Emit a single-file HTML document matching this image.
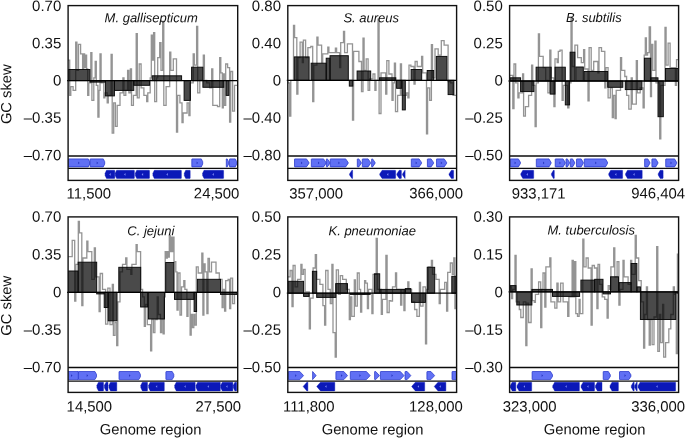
<!DOCTYPE html>
<html><head><meta charset="utf-8"><title>GC skew</title>
<style>html,body{margin:0;padding:0;background:#fff}svg{display:block;will-change:transform}</style>
</head><body>
<svg width="685" height="438" viewBox="0 0 685 438">
<rect width="685" height="438" fill="#fff"/>
<clipPath id="c00"><rect x="68.1" y="5.6" width="169.6" height="150.4"/></clipPath>
<g clip-path="url(#c00)">
<path d="M68.1,60.2H69.7V95.4H70.8V86.6H73.1V90.4H75.7V42.1H76.9V70.3H78.5V44.4H80.6V53.9H82.6V69.0H83.6V53.9H84.6V67.7H85.6V55.2H86.6V69.0H87.7V95.4H88.8V82.8H90.8V52.7H91.9V100.4H93.8V77.8H95.2V61.5H96.3V85.3H97.9V117.0H99.0V90.4H100.0V53.9H101.1V82.8H103.8V97.9H104.9V92.9H107.2V102.9H108.3V95.4H111.1V54.4H112.2V133.1H113.7V102.9H115.4V126.3H117.2V105.4H120.0V92.9H122.9V77.8H124.0V95.4H125.8V90.4H127.6V70.3H128.9V92.9H130.4V69.0H131.5V105.4H133.4V95.4H136.2V33.6H137.3V97.9H139.2V64.0H141.1V87.8H143.9V95.4H146.7V101.7H147.8V92.9H150.2V77.8H151.3V35.1H152.4V60.2H153.6V32.6H154.7V101.7H156.6V77.8H157.7V57.7H159.7V42.6H161.0V70.3H162.7V21.3H163.8V105.4H166.1V86.6H169.7V52.2H170.8V70.3H173.3V58.9H176.5V132.1H177.6V95.4H179.9V102.9H182.0V122.5H183.1V113.0H187.1V102.9H188.9V115.5H190.0V82.8H193.2V53.9H194.3V65.2H196.6V26.3H197.7V92.9H199.8V80.3H203.3V55.2H204.4V80.3H206.7V82.8H209.7V87.8H211.7V69.0H212.8V105.4H217.5V106.7H219.7V57.7H220.8V72.8H222.3V107.9H223.3V74.0H224.3V105.4H225.7V64.0H227.6V67.7H229.6V122.0H230.7V71.5H232.6V111.2H234.5V85.3H236.9V85.3" fill="none" stroke="#949494" stroke-width="1.3" stroke-linejoin="miter"/>
<rect x="68.1" y="69.5" width="21.8" height="11.1" fill="rgba(0,0,0,0.71)" stroke="#0a0a0a" stroke-width="0.95"/>
<rect x="89.9" y="80.6" width="15.6" height="1.5" fill="rgba(0,0,0,0.71)" stroke="#0a0a0a" stroke-width="0.95"/>
<rect x="105.4" y="80.6" width="9.0" height="15.3" fill="rgba(0,0,0,0.71)" stroke="#0a0a0a" stroke-width="0.95"/>
<rect x="114.5" y="80.6" width="19.3" height="9.8" fill="rgba(0,0,0,0.71)" stroke="#0a0a0a" stroke-width="0.95"/>
<rect x="133.8" y="80.6" width="15.8" height="4.7" fill="rgba(0,0,0,0.71)" stroke="#0a0a0a" stroke-width="0.95"/>
<rect x="152.2" y="75.8" width="29.4" height="4.8" fill="rgba(0,0,0,0.71)" stroke="#0a0a0a" stroke-width="0.95"/>
<rect x="184.1" y="80.6" width="6.3" height="19.8" fill="rgba(0,0,0,0.71)" stroke="#0a0a0a" stroke-width="0.95"/>
<rect x="191.6" y="67.2" width="11.3" height="13.4" fill="rgba(0,0,0,0.71)" stroke="#0a0a0a" stroke-width="0.95"/>
<rect x="202.9" y="80.6" width="20.9" height="6.7" fill="rgba(0,0,0,0.71)" stroke="#0a0a0a" stroke-width="0.95"/>
<rect x="226.1" y="80.6" width="2.8" height="14.8" fill="rgba(0,0,0,0.71)" stroke="#0a0a0a" stroke-width="0.95"/>
</g>
<line x1="67.1" y1="80.6" x2="237.7" y2="80.6" stroke="#000" stroke-width="1.3"/>
<clipPath id="tc00"><rect x="68.1" y="156.0" width="169.6" height="24.4"/></clipPath>
<g clip-path="url(#tc00)">
<path d="M68.6,158.9 L88.3,158.9 L89.7,161.7 L89.7,164.1 L88.3,166.9 L68.6,166.9 Q68.2,166.9 68.2,166.6 L68.2,159.2 Q68.2,158.9 68.6,158.9 Z" fill="#6070f4" stroke="#1e2ec6" stroke-width="0.7" stroke-linejoin="round"/><path d="M78.2,161.6 L79.7,162.9 L78.2,164.2 Z" fill="#2a38c0"/>
<path d="M90.4,158.9 L103.3,158.9 L104.7,161.7 L104.7,164.1 L103.3,166.9 L90.4,166.9 Q90.1,166.9 90.1,166.6 L90.1,159.2 Q90.1,158.9 90.4,158.9 Z" fill="#6070f4" stroke="#1e2ec6" stroke-width="0.7" stroke-linejoin="round"/><path d="M96.7,161.6 L98.2,162.9 L96.7,164.2 Z" fill="#2a38c0"/>
<path d="M192.2,158.9 L201.3,158.9 L202.7,161.7 L202.7,164.1 L201.3,166.9 L192.2,166.9 Q191.8,166.9 191.8,166.6 L191.8,159.2 Q191.8,158.9 192.2,158.9 Z" fill="#6070f4" stroke="#1e2ec6" stroke-width="0.7" stroke-linejoin="round"/><path d="M196.6,161.6 L198.1,162.9 L196.6,164.2 Z" fill="#2a38c0"/>
<path d="M226.5,158.9 L227.2,158.9 L228.6,161.7 L228.6,164.1 L227.2,166.9 L226.5,166.9 Q226.3,166.9 226.3,166.6 L226.3,159.2 Q226.3,158.9 226.5,158.9 Z" fill="#6070f4" stroke="#1e2ec6" stroke-width="0.7" stroke-linejoin="round"/>
<path d="M229.9,158.9 L235.3,158.9 L236.7,161.7 L236.7,164.1 L235.3,166.9 L229.9,166.9 Q229.5,166.9 229.5,166.6 L229.5,159.2 Q229.5,158.9 229.9,158.9 Z" fill="#6070f4" stroke="#1e2ec6" stroke-width="0.7" stroke-linejoin="round"/>
<path d="M114.4,170.3 L106.5,170.3 L105.1,173.2 L105.1,175.6 L106.5,178.4 L114.4,178.4 Q114.8,178.4 114.8,178.1 L114.8,170.7 Q114.8,170.3 114.4,170.3 Z" fill="#0b18b8" stroke="#0b18b8" stroke-width="0.4" stroke-linejoin="round"/><path d="M110.7,173.1 L109.2,174.4 L110.7,175.7 Z" fill="#7d8af5"/>
<path d="M134.0,170.3 L116.6,170.3 L115.2,173.2 L115.2,175.6 L116.6,178.4 L134.0,178.4 Q134.4,178.4 134.4,178.1 L134.4,170.7 Q134.4,170.3 134.0,170.3 Z" fill="#0b18b8" stroke="#0b18b8" stroke-width="0.4" stroke-linejoin="round"/><path d="M125.5,173.1 L124.0,174.4 L125.5,175.7 Z" fill="#7d8af5"/>
<path d="M149.1,170.3 L136.7,170.3 L135.3,173.2 L135.3,175.6 L136.7,178.4 L149.1,178.4 Q149.5,178.4 149.5,178.1 L149.5,170.7 Q149.5,170.3 149.1,170.3 Z" fill="#0b18b8" stroke="#0b18b8" stroke-width="0.4" stroke-linejoin="round"/><path d="M143.1,173.1 L141.6,174.4 L143.1,175.7 Z" fill="#7d8af5"/>
<path d="M181.0,170.3 L154.3,170.3 L152.9,173.2 L152.9,175.6 L154.3,178.4 L181.0,178.4 Q181.4,178.4 181.4,178.1 L181.4,170.7 Q181.4,170.3 181.0,170.3 Z" fill="#0b18b8" stroke="#0b18b8" stroke-width="0.4" stroke-linejoin="round"/><path d="M167.8,173.1 L166.3,174.4 L167.8,175.7 Z" fill="#7d8af5"/>
<path d="M189.8,170.3 L185.7,170.3 L184.3,173.2 L184.3,175.6 L185.7,178.4 L189.8,178.4 Q190.2,178.4 190.2,178.1 L190.2,170.7 Q190.2,170.3 189.8,170.3 Z" fill="#0b18b8" stroke="#0b18b8" stroke-width="0.4" stroke-linejoin="round"/>
<path d="M223.2,170.3 L204.0,170.3 L202.6,173.2 L202.6,175.6 L204.0,178.4 L223.2,178.4 Q223.6,178.4 223.6,178.1 L223.6,170.7 Q223.6,170.3 223.2,170.3 Z" fill="#0b18b8" stroke="#0b18b8" stroke-width="0.4" stroke-linejoin="round"/><path d="M213.8,173.1 L212.3,174.4 L213.8,175.7 Z" fill="#7d8af5"/>
</g>
<line x1="68.1" y1="155.9" x2="237.7" y2="155.9" stroke="#0c0c0c" stroke-width="1.45"/>
<line x1="68.1" y1="168.3" x2="237.7" y2="168.3" stroke="#0c0c0c" stroke-width="1.35"/>
<rect x="68.1" y="5.6" width="169.6" height="174.8" fill="none" stroke="#111" stroke-width="1.4"/>
<text x="61.3" y="10.97" transform="rotate(0.03 61.3 10.97)" font-family="Liberation Sans, Arial, Helvetica, sans-serif" font-size="15" text-anchor="end" fill="#111">0.70</text>
<text x="61.3" y="48.37" transform="rotate(0.03 61.3 48.37)" font-family="Liberation Sans, Arial, Helvetica, sans-serif" font-size="15" text-anchor="end" fill="#111">0.35</text>
<text x="61.3" y="85.57" transform="rotate(0.03 61.3 85.57)" font-family="Liberation Sans, Arial, Helvetica, sans-serif" font-size="15" text-anchor="end" fill="#111">0</text>
<text x="61.3" y="122.77" transform="rotate(0.03 61.3 122.77)" font-family="Liberation Sans, Arial, Helvetica, sans-serif" font-size="15" text-anchor="end" fill="#111">–0.35</text>
<text x="61.3" y="160.37" transform="rotate(0.03 61.3 160.37)" font-family="Liberation Sans, Arial, Helvetica, sans-serif" font-size="15" text-anchor="end" fill="#111">–0.70</text>
<text x="104.6" y="22.2" transform="rotate(0.03 104.6 22.2)" font-family="Liberation Sans, Arial, Helvetica, sans-serif" font-size="13" font-style="italic" fill="#111">M. gallisepticum</text>
<text x="66.6" y="198.4" transform="rotate(0.03 66.6 198.4)" font-family="Liberation Sans, Arial, Helvetica, sans-serif" font-size="14.9" text-anchor="start" fill="#111">11,500</text>
<text x="239.4" y="198.4" transform="rotate(0.03 239.4 198.4)" font-family="Liberation Sans, Arial, Helvetica, sans-serif" font-size="14.9" text-anchor="end" fill="#111">24,500</text>
<text transform="translate(11.2,94.2) rotate(-89.97)" font-family="Liberation Sans, Arial, Helvetica, sans-serif" font-size="14.75" text-anchor="middle" fill="#111">GC skew</text>
<clipPath id="c10"><rect x="287.8" y="5.6" width="168.8" height="150.4"/></clipPath>
<g clip-path="url(#c10)">
<path d="M288.0,82.8H289.7V116.2H290.8V80.3H293.5V25.5H294.6V37.6H296.8V94.1H297.9V57.7H300.1V42.1H302.3V62.7H303.4V40.1H305.6V57.7H307.9V47.6H310.8V46.4H312.7V101.7H313.8V65.2H316.9V37.1H318.0V45.1H321.6V62.7H322.7V53.9H327.8V47.1H328.9V52.7H335.4V48.1H336.6V52.7H339.6V67.7H340.7V42.6H343.5V31.3H344.6V52.7H347.4V43.9H352.5V120.0H353.6V51.4H358.9V61.5H361.5V91.6H363.0V38.1H364.1V70.3H366.2V58.9H368.1V90.4H369.7V79.0H373.0V74.0H374.9V90.4H376.0V80.3H378.0V19.2H379.1V113.5H381.0V72.8H385.7V94.1H386.8V60.7H388.9V74.0H392.0V100.4H393.1V82.8H394.4V63.2H395.5V111.7H397.6V95.4H400.4V64.0H401.5V95.4H406.4V92.9H407.9V97.9H409.0V65.2H410.9V66.5H414.0V84.1H415.1V61.5H417.2V66.5H421.6V56.4H422.7V72.8H426.5V133.8H427.6V87.8H429.7V100.4H431.4V44.6H432.5V77.8H435.0V48.9H438.2V55.2H441.3V40.6H444.1V45.1H448.1V81.6H450.6V82.8H453.1V95.4H456.6V95.4" fill="none" stroke="#949494" stroke-width="1.3" stroke-linejoin="miter"/>
<rect x="294.3" y="56.9" width="14.8" height="23.4" fill="rgba(0,0,0,0.71)" stroke="#0a0a0a" stroke-width="0.95"/>
<rect x="311.1" y="63.2" width="15.1" height="17.1" fill="rgba(0,0,0,0.71)" stroke="#0a0a0a" stroke-width="0.95"/>
<rect x="326.2" y="58.2" width="3.8" height="22.1" fill="rgba(0,0,0,0.71)" stroke="#0a0a0a" stroke-width="0.95"/>
<rect x="330.0" y="55.7" width="18.3" height="24.6" fill="rgba(0,0,0,0.71)" stroke="#0a0a0a" stroke-width="0.95"/>
<rect x="349.3" y="80.3" width="3.5" height="5.8" fill="rgba(0,0,0,0.71)" stroke="#0a0a0a" stroke-width="0.95"/>
<rect x="357.1" y="71.0" width="13.6" height="9.3" fill="rgba(0,0,0,0.71)" stroke="#0a0a0a" stroke-width="0.95"/>
<rect x="379.5" y="77.8" width="16.3" height="2.5" fill="rgba(0,0,0,0.71)" stroke="#0a0a0a" stroke-width="0.95"/>
<rect x="396.6" y="80.3" width="5.0" height="8.0" fill="rgba(0,0,0,0.71)" stroke="#0a0a0a" stroke-width="0.95"/>
<rect x="402.3" y="80.3" width="3.0" height="29.6" fill="rgba(0,0,0,0.71)" stroke="#0a0a0a" stroke-width="0.95"/>
<rect x="411.1" y="69.5" width="10.6" height="10.8" fill="rgba(0,0,0,0.71)" stroke="#0a0a0a" stroke-width="0.95"/>
<rect x="427.2" y="70.5" width="6.5" height="9.8" fill="rgba(0,0,0,0.71)" stroke="#0a0a0a" stroke-width="0.95"/>
<rect x="436.3" y="56.4" width="10.6" height="23.9" fill="rgba(0,0,0,0.71)" stroke="#0a0a0a" stroke-width="0.95"/>
<rect x="448.1" y="80.3" width="5.8" height="14.3" fill="rgba(0,0,0,0.71)" stroke="#0a0a0a" stroke-width="0.95"/>
</g>
<line x1="286.8" y1="80.3" x2="456.6" y2="80.3" stroke="#000" stroke-width="1.3"/>
<clipPath id="tc10"><rect x="287.8" y="156.0" width="168.8" height="24.4"/></clipPath>
<g clip-path="url(#tc10)">
<path d="M294.8,158.9 L306.5,158.9 L308.9,162.4 L308.9,163.4 L306.5,166.9 L294.8,166.9 Q294.5,166.9 294.5,166.6 L294.5,159.2 Q294.5,158.9 294.8,158.9 Z" fill="#6070f4" stroke="#1e2ec6" stroke-width="0.7" stroke-linejoin="round"/><path d="M301.0,161.6 L302.5,162.9 L301.0,164.2 Z" fill="#2a38c0"/>
<path d="M311.7,158.9 L323.6,158.9 L326.0,162.4 L326.0,163.4 L323.6,166.9 L311.7,166.9 Q311.3,166.9 311.3,166.6 L311.3,159.2 Q311.3,158.9 311.7,158.9 Z" fill="#6070f4" stroke="#1e2ec6" stroke-width="0.7" stroke-linejoin="round"/><path d="M318.0,161.6 L319.5,162.9 L318.0,164.2 Z" fill="#2a38c0"/>
<path d="M326.7,158.9 L327.4,158.9 L329.8,162.4 L329.8,163.4 L327.4,166.9 L326.7,166.9 Q326.4,166.9 326.4,166.6 L326.4,159.2 Q326.4,158.9 326.7,158.9 Z" fill="#6070f4" stroke="#1e2ec6" stroke-width="0.7" stroke-linejoin="round"/>
<path d="M330.5,158.9 L345.7,158.9 L348.1,162.4 L348.1,163.4 L345.7,166.9 L330.5,166.9 Q330.2,166.9 330.2,166.6 L330.2,159.2 Q330.2,158.9 330.5,158.9 Z" fill="#6070f4" stroke="#1e2ec6" stroke-width="0.7" stroke-linejoin="round"/><path d="M338.4,161.6 L339.9,162.9 L338.4,164.2 Z" fill="#2a38c0"/>
<path d="M357.7,158.9 L358.8,158.9 L361.2,162.4 L361.2,163.4 L358.8,166.9 L357.7,166.9 Q357.3,166.9 357.3,166.6 L357.3,159.2 Q357.3,158.9 357.7,158.9 Z" fill="#6070f4" stroke="#1e2ec6" stroke-width="0.7" stroke-linejoin="round"/>
<path d="M362.7,158.9 L368.1,158.9 L370.5,162.4 L370.5,163.4 L368.1,166.9 L362.7,166.9 Q362.3,166.9 362.3,166.6 L362.3,159.2 Q362.3,158.9 362.7,158.9 Z" fill="#6070f4" stroke="#1e2ec6" stroke-width="0.7" stroke-linejoin="round"/>
<path d="M371.9,158.9 L372.6,158.9 L375.0,162.4 L375.0,163.4 L372.6,166.9 L371.9,166.9 Q371.6,166.9 371.6,166.6 L371.6,159.2 Q371.6,158.9 371.9,158.9 Z" fill="#6070f4" stroke="#1e2ec6" stroke-width="0.7" stroke-linejoin="round"/>
<path d="M411.7,158.9 L419.1,158.9 L421.5,162.4 L421.5,163.4 L419.1,166.9 L411.7,166.9 Q411.3,166.9 411.3,166.6 L411.3,159.2 Q411.3,158.9 411.7,158.9 Z" fill="#6070f4" stroke="#1e2ec6" stroke-width="0.7" stroke-linejoin="round"/><path d="M415.7,161.6 L417.2,162.9 L415.7,164.2 Z" fill="#2a38c0"/>
<path d="M427.8,158.9 L431.1,158.9 L433.5,162.4 L433.5,163.4 L431.1,166.9 L427.8,166.9 Q427.4,166.9 427.4,166.6 L427.4,159.2 Q427.4,158.9 427.8,158.9 Z" fill="#6070f4" stroke="#1e2ec6" stroke-width="0.7" stroke-linejoin="round"/>
<path d="M436.8,158.9 L444.2,158.9 L446.6,162.4 L446.6,163.4 L444.2,166.9 L436.8,166.9 Q436.5,166.9 436.5,166.6 L436.5,159.2 Q436.5,158.9 436.8,158.9 Z" fill="#6070f4" stroke="#1e2ec6" stroke-width="0.7" stroke-linejoin="round"/><path d="M440.8,161.6 L442.3,162.9 L440.8,164.2 Z" fill="#2a38c0"/>
<path d="M352.4,170.3 L351.9,170.3 L349.5,173.9 L349.5,174.9 L351.9,178.4 L352.4,178.4 Q352.6,178.4 352.6,178.2 L352.6,170.5 Q352.6,170.3 352.4,170.3 Z" fill="#0b18b8" stroke="#0b18b8" stroke-width="0.4" stroke-linejoin="round"/>
<path d="M395.2,170.3 L382.1,170.3 L379.7,173.9 L379.7,174.9 L382.1,178.4 L395.2,178.4 Q395.6,178.4 395.6,178.1 L395.6,170.7 Q395.6,170.3 395.2,170.3 Z" fill="#0b18b8" stroke="#0b18b8" stroke-width="0.4" stroke-linejoin="round"/><path d="M388.3,173.1 L386.8,174.4 L388.3,175.7 Z" fill="#7d8af5"/>
<path d="M401.0,170.3 L399.2,170.3 L396.8,173.9 L396.8,174.9 L399.2,178.4 L401.0,178.4 Q401.4,178.4 401.4,178.1 L401.4,170.7 Q401.4,170.3 401.0,170.3 Z" fill="#0b18b8" stroke="#0b18b8" stroke-width="0.4" stroke-linejoin="round"/>
<path d="M405.1,170.3 L404.9,170.3 L402.5,173.9 L402.5,174.9 L404.9,178.4 L405.1,178.4 Q405.1,178.4 405.1,178.3 L405.1,170.4 Q405.1,170.3 405.1,170.3 Z" fill="#0b18b8" stroke="#0b18b8" stroke-width="0.4" stroke-linejoin="round"/>
<path d="M453.3,170.3 L451.4,170.3 L449.0,173.9 L449.0,174.9 L451.4,178.4 L453.3,178.4 Q453.6,178.4 453.6,178.1 L453.6,170.7 Q453.6,170.3 453.3,170.3 Z" fill="#0b18b8" stroke="#0b18b8" stroke-width="0.4" stroke-linejoin="round"/>
</g>
<line x1="287.8" y1="155.9" x2="456.6" y2="155.9" stroke="#0c0c0c" stroke-width="1.45"/>
<line x1="287.8" y1="168.3" x2="456.6" y2="168.3" stroke="#0c0c0c" stroke-width="1.35"/>
<rect x="287.8" y="5.6" width="168.8" height="174.8" fill="none" stroke="#111" stroke-width="1.4"/>
<text x="281.0" y="10.97" transform="rotate(0.03 281.0 10.97)" font-family="Liberation Sans, Arial, Helvetica, sans-serif" font-size="15" text-anchor="end" fill="#111">0.80</text>
<text x="281.0" y="48.37" transform="rotate(0.03 281.0 48.37)" font-family="Liberation Sans, Arial, Helvetica, sans-serif" font-size="15" text-anchor="end" fill="#111">0.40</text>
<text x="281.0" y="85.57" transform="rotate(0.03 281.0 85.57)" font-family="Liberation Sans, Arial, Helvetica, sans-serif" font-size="15" text-anchor="end" fill="#111">0</text>
<text x="281.0" y="122.77" transform="rotate(0.03 281.0 122.77)" font-family="Liberation Sans, Arial, Helvetica, sans-serif" font-size="15" text-anchor="end" fill="#111">–0.40</text>
<text x="281.0" y="160.37" transform="rotate(0.03 281.0 160.37)" font-family="Liberation Sans, Arial, Helvetica, sans-serif" font-size="15" text-anchor="end" fill="#111">–0.80</text>
<text x="343.4" y="22.2" transform="rotate(0.03 343.4 22.2)" font-family="Liberation Sans, Arial, Helvetica, sans-serif" font-size="13" font-style="italic" fill="#111">S. aureus</text>
<text x="289.3" y="198.4" transform="rotate(0.03 289.3 198.4)" font-family="Liberation Sans, Arial, Helvetica, sans-serif" font-size="14.9" text-anchor="start" fill="#111">357,000</text>
<text x="463.0" y="198.4" transform="rotate(0.03 463.0 198.4)" font-family="Liberation Sans, Arial, Helvetica, sans-serif" font-size="14.9" text-anchor="end" fill="#111">366,000</text>
<clipPath id="c20"><rect x="509.6" y="5.6" width="169.0" height="150.4"/></clipPath>
<g clip-path="url(#c20)">
<path d="M510.0,75.3H512.8V108.7H514.0V64.0H515.7V82.8H517.9V97.9H519.0V92.9H522.6V74.0H523.6V116.2H525.4V106.7H528.6V95.4H531.6V65.2H532.7V85.3H535.1V126.5H536.2V82.8H538.4V33.8H539.5V56.4H543.2V67.7H545.7V80.3H547.9V92.9H549.8V50.2H550.9V77.8H553.9V106.7H555.0V58.9H557.2V62.7H558.3V51.4H560.0V50.2H562.1V100.4H563.2V85.3H567.7V107.9H568.9V82.8H571.0V18.7H572.1V66.5H574.9V45.1H577.6V57.7H581.3V62.7H583.6V49.6H584.7V69.0H588.0V100.9H589.1V47.6H591.2V70.3H593.7V61.5H597.9V72.8H599.0V47.6H601.5V51.4H604.8V87.8H605.9V67.7H608.1V97.9H610.3V87.8H612.3V117.5H613.5V95.4H615.1V118.7H616.2V90.4H620.5V57.7H621.6V70.3H624.8V76.5H626.6V95.4H628.8V109.2H631.2V77.8H632.3V104.2H636.3V60.7H637.4V92.9H640.2V87.8H643.1V107.9H644.2V55.2H645.3V37.8H646.4V55.2H647.6V52.7H649.2V26.8H650.5V96.6H651.5V44.4H652.8V70.3H654.9V41.1H656.0V82.8H659.7V138.8H660.8V85.3H665.0V27.5H666.1V65.2H668.1V43.1H670.1V67.7H672.6V67.7H675.4V85.3H676.5V59.7H678.6V59.7" fill="none" stroke="#949494" stroke-width="1.3" stroke-linejoin="miter"/>
<rect x="510.0" y="77.8" width="10.6" height="3.2" fill="rgba(0,0,0,0.71)" stroke="#0a0a0a" stroke-width="0.95"/>
<rect x="520.6" y="81.0" width="13.3" height="10.6" fill="rgba(0,0,0,0.71)" stroke="#0a0a0a" stroke-width="0.95"/>
<rect x="536.1" y="67.2" width="15.1" height="13.8" fill="rgba(0,0,0,0.71)" stroke="#0a0a0a" stroke-width="0.95"/>
<rect x="550.2" y="81.0" width="4.8" height="13.1" fill="rgba(0,0,0,0.71)" stroke="#0a0a0a" stroke-width="0.95"/>
<rect x="555.0" y="67.2" width="10.3" height="13.8" fill="rgba(0,0,0,0.71)" stroke="#0a0a0a" stroke-width="0.95"/>
<rect x="565.3" y="81.0" width="4.3" height="23.9" fill="rgba(0,0,0,0.71)" stroke="#0a0a0a" stroke-width="0.95"/>
<rect x="570.1" y="52.2" width="4.8" height="28.8" fill="rgba(0,0,0,0.71)" stroke="#0a0a0a" stroke-width="0.95"/>
<rect x="575.8" y="67.0" width="7.5" height="14.0" fill="rgba(0,0,0,0.71)" stroke="#0a0a0a" stroke-width="0.95"/>
<rect x="584.1" y="71.5" width="23.6" height="9.5" fill="rgba(0,0,0,0.71)" stroke="#0a0a0a" stroke-width="0.95"/>
<rect x="607.7" y="81.0" width="15.1" height="6.3" fill="rgba(0,0,0,0.71)" stroke="#0a0a0a" stroke-width="0.95"/>
<rect x="625.3" y="81.0" width="16.6" height="8.6" fill="rgba(0,0,0,0.71)" stroke="#0a0a0a" stroke-width="0.95"/>
<rect x="644.4" y="58.2" width="6.3" height="22.8" fill="rgba(0,0,0,0.71)" stroke="#0a0a0a" stroke-width="0.95"/>
<rect x="650.7" y="77.8" width="7.3" height="3.2" fill="rgba(0,0,0,0.71)" stroke="#0a0a0a" stroke-width="0.95"/>
<rect x="658.0" y="81.0" width="5.3" height="35.7" fill="rgba(0,0,0,0.71)" stroke="#0a0a0a" stroke-width="0.95"/>
<rect x="665.5" y="68.5" width="13.1" height="12.5" fill="rgba(0,0,0,0.71)" stroke="#0a0a0a" stroke-width="0.95"/>
</g>
<line x1="508.6" y1="81.0" x2="678.6" y2="81.0" stroke="#000" stroke-width="1.3"/>
<clipPath id="tc20"><rect x="509.6" y="156.0" width="169.0" height="24.4"/></clipPath>
<g clip-path="url(#tc20)">
<path d="M510.6,158.9 L518.4,158.9 L520.4,162.3 L520.4,163.5 L518.4,166.9 L510.6,166.9 Q510.2,166.9 510.2,166.6 L510.2,159.2 Q510.2,158.9 510.6,158.9 Z" fill="#6070f4" stroke="#1e2ec6" stroke-width="0.7" stroke-linejoin="round"/><path d="M514.6,161.6 L516.1,162.9 L514.6,164.2 Z" fill="#2a38c0"/>
<path d="M536.7,158.9 L549.0,158.9 L551.0,162.3 L551.0,163.5 L549.0,166.9 L536.7,166.9 Q536.3,166.9 536.3,166.6 L536.3,159.2 Q536.3,158.9 536.7,158.9 Z" fill="#6070f4" stroke="#1e2ec6" stroke-width="0.7" stroke-linejoin="round"/><path d="M543.0,161.6 L544.5,162.9 L543.0,164.2 Z" fill="#2a38c0"/>
<path d="M555.5,158.9 L563.1,158.9 L565.1,162.3 L565.1,163.5 L563.1,166.9 L555.5,166.9 Q555.2,166.9 555.2,166.6 L555.2,159.2 Q555.2,158.9 555.5,158.9 Z" fill="#6070f4" stroke="#1e2ec6" stroke-width="0.7" stroke-linejoin="round"/><path d="M559.4,161.6 L560.9,162.9 L559.4,164.2 Z" fill="#2a38c0"/>
<path d="M566.3,158.9 L567.4,158.9 L569.4,162.3 L569.4,163.5 L567.4,166.9 L566.3,166.9 Q566.0,166.9 566.0,166.6 L566.0,159.2 Q566.0,158.9 566.3,158.9 Z" fill="#6070f4" stroke="#1e2ec6" stroke-width="0.7" stroke-linejoin="round"/>
<path d="M570.6,158.9 L572.6,158.9 L574.6,162.3 L574.6,163.5 L572.6,166.9 L570.6,166.9 Q570.3,166.9 570.3,166.6 L570.3,159.2 Q570.3,158.9 570.6,158.9 Z" fill="#6070f4" stroke="#1e2ec6" stroke-width="0.7" stroke-linejoin="round"/>
<path d="M576.9,158.9 L581.2,158.9 L583.2,162.3 L583.2,163.5 L581.2,166.9 L576.9,166.9 Q576.5,166.9 576.5,166.6 L576.5,159.2 Q576.5,158.9 576.9,158.9 Z" fill="#6070f4" stroke="#1e2ec6" stroke-width="0.7" stroke-linejoin="round"/>
<path d="M584.7,158.9 L605.5,158.9 L607.5,162.3 L607.5,163.5 L605.5,166.9 L584.7,166.9 Q584.3,166.9 584.3,166.6 L584.3,159.2 Q584.3,158.9 584.7,158.9 Z" fill="#6070f4" stroke="#1e2ec6" stroke-width="0.7" stroke-linejoin="round"/><path d="M595.2,161.6 L596.7,162.9 L595.2,164.2 Z" fill="#2a38c0"/>
<path d="M645.0,158.9 L647.8,158.9 L649.8,162.3 L649.8,163.5 L647.8,166.9 L645.0,166.9 Q644.6,166.9 644.6,166.6 L644.6,159.2 Q644.6,158.9 645.0,158.9 Z" fill="#6070f4" stroke="#1e2ec6" stroke-width="0.7" stroke-linejoin="round"/>
<path d="M652.3,158.9 L655.8,158.9 L657.8,162.3 L657.8,163.5 L655.8,166.9 L652.3,166.9 Q651.9,166.9 651.9,166.6 L651.9,159.2 Q651.9,158.9 652.3,158.9 Z" fill="#6070f4" stroke="#1e2ec6" stroke-width="0.7" stroke-linejoin="round"/>
<path d="M666.1,158.9 L674.6,158.9 L676.6,162.3 L676.6,163.5 L674.6,166.9 L666.1,166.9 Q665.7,166.9 665.7,166.6 L665.7,159.2 Q665.7,158.9 666.1,158.9 Z" fill="#6070f4" stroke="#1e2ec6" stroke-width="0.7" stroke-linejoin="round"/><path d="M670.5,161.6 L672.0,162.9 L670.5,164.2 Z" fill="#2a38c0"/>
<path d="M533.3,170.3 L522.8,170.3 L520.8,173.8 L520.8,175.0 L522.8,178.4 L533.3,178.4 Q533.7,178.4 533.7,178.1 L533.7,170.7 Q533.7,170.3 533.3,170.3 Z" fill="#0b18b8" stroke="#0b18b8" stroke-width="0.4" stroke-linejoin="round"/><path d="M527.9,173.1 L526.4,174.4 L527.9,175.7 Z" fill="#7d8af5"/>
<path d="M554.0,170.3 L553.4,170.3 L551.4,173.8 L551.4,175.0 L553.4,178.4 L554.0,178.4 Q554.3,178.4 554.3,178.1 L554.3,170.6 Q554.3,170.3 554.0,170.3 Z" fill="#0b18b8" stroke="#0b18b8" stroke-width="0.4" stroke-linejoin="round"/>
<path d="M622.3,170.3 L610.7,170.3 L608.7,173.8 L608.7,175.0 L610.7,178.4 L622.3,178.4 Q622.6,178.4 622.6,178.1 L622.6,170.7 Q622.6,170.3 622.3,170.3 Z" fill="#0b18b8" stroke="#0b18b8" stroke-width="0.4" stroke-linejoin="round"/><path d="M616.4,173.1 L614.9,174.4 L616.4,175.7 Z" fill="#7d8af5"/>
<path d="M641.9,170.3 L627.5,170.3 L625.5,173.8 L625.5,175.0 L627.5,178.4 L641.9,178.4 Q642.2,178.4 642.2,178.1 L642.2,170.7 Q642.2,170.3 641.9,170.3 Z" fill="#0b18b8" stroke="#0b18b8" stroke-width="0.4" stroke-linejoin="round"/><path d="M634.6,173.1 L633.1,174.4 L634.6,175.7 Z" fill="#7d8af5"/>
<path d="M662.7,170.3 L660.2,170.3 L658.2,173.8 L658.2,175.0 L660.2,178.4 L662.7,178.4 Q663.1,178.4 663.1,178.1 L663.1,170.7 Q663.1,170.3 662.7,170.3 Z" fill="#0b18b8" stroke="#0b18b8" stroke-width="0.4" stroke-linejoin="round"/>
</g>
<line x1="509.6" y1="155.9" x2="678.6" y2="155.9" stroke="#0c0c0c" stroke-width="1.45"/>
<line x1="509.6" y1="168.3" x2="678.6" y2="168.3" stroke="#0c0c0c" stroke-width="1.35"/>
<rect x="509.6" y="5.6" width="169.0" height="174.8" fill="none" stroke="#111" stroke-width="1.4"/>
<text x="502.8" y="10.97" transform="rotate(0.03 502.8 10.97)" font-family="Liberation Sans, Arial, Helvetica, sans-serif" font-size="15" text-anchor="end" fill="#111">0.50</text>
<text x="502.8" y="48.37" transform="rotate(0.03 502.8 48.37)" font-family="Liberation Sans, Arial, Helvetica, sans-serif" font-size="15" text-anchor="end" fill="#111">0.25</text>
<text x="502.8" y="85.57" transform="rotate(0.03 502.8 85.57)" font-family="Liberation Sans, Arial, Helvetica, sans-serif" font-size="15" text-anchor="end" fill="#111">0</text>
<text x="502.8" y="122.77" transform="rotate(0.03 502.8 122.77)" font-family="Liberation Sans, Arial, Helvetica, sans-serif" font-size="15" text-anchor="end" fill="#111">–0.25</text>
<text x="502.8" y="160.37" transform="rotate(0.03 502.8 160.37)" font-family="Liberation Sans, Arial, Helvetica, sans-serif" font-size="15" text-anchor="end" fill="#111">–0.50</text>
<text x="566.0" y="21.9" transform="rotate(0.03 566.0 21.9)" font-family="Liberation Sans, Arial, Helvetica, sans-serif" font-size="13" font-style="italic" fill="#111">B. subtilis</text>
<text x="511.8" y="198.4" transform="rotate(0.03 511.8 198.4)" font-family="Liberation Sans, Arial, Helvetica, sans-serif" font-size="14.9" text-anchor="start" fill="#111">933,171</text>
<text x="685.0" y="198.4" transform="rotate(0.03 685.0 198.4)" font-family="Liberation Sans, Arial, Helvetica, sans-serif" font-size="14.9" text-anchor="end" fill="#111">946,404</text>
<clipPath id="c01"><rect x="68.1" y="216.9" width="169.6" height="150.7"/></clipPath>
<g clip-path="url(#c01)">
<path d="M68.1,256.7H72.2V240.4H74.7V301.2H75.8V264.3H78.3V221.5H79.4V232.8H81.8V305.7H82.9V258.0H86.8V241.1H87.9V251.7H91.8V279.3H94.3V247.9H95.4V276.8H99.1V311.5H100.2V273.5H102.5V289.4H105.6V324.1H107.8V288.1H110.0V324.6H112.3V284.4H113.4V335.4H115.0V322.5H116.7V345.7H117.8V301.9H120.0V271.8H122.5V264.3H125.7V258.0H126.9V269.3H130.8V274.3H131.9V264.3H136.1V244.7H137.2V251.7H140.6V289.4H142.6V296.9H144.3V326.3H145.4V304.5H147.3V324.6H150.6V350.9H151.7V319.5H153.4V332.6H154.9V319.5H157.2V296.9H158.3V314.5H160.5V332.6H161.7V319.5H163.1V333.8H164.2V296.9H165.2V251.7H166.3V258.0H167.3V251.7H168.3V257.2H169.3V235.4H170.3V251.7H171.0V237.1H172.0V251.7H173.0V237.1H174.0V261.7H175.8V271.8H177.0V310.0H178.1V273.0H180.0V315.0H181.5V286.9H183.8V280.6H184.9V289.4H186.9V316.3H188.0V299.4H190.1V335.1H191.2V314.5H192.4V327.6H193.8V314.5H194.9V325.1H196.3V266.8H198.2V273.0H201.8V253.2H202.9V315.0H203.9V264.0H205.1V271.8H206.9V313.7H208.0V258.5H209.4V271.8H211.5V262.2H216.0V273.0H219.3V279.3H222.1V307.5H223.2V289.4H224.6V311.2H225.7V280.6H228.1V279.3H229.6V308.7H230.7V278.1H232.6V303.7H234.5V294.4H236.9V294.4" fill="none" stroke="#949494" stroke-width="1.3" stroke-linejoin="miter"/>
<rect x="68.1" y="271.0" width="10.0" height="21.3" fill="rgba(0,0,0,0.71)" stroke="#0a0a0a" stroke-width="0.95"/>
<rect x="78.1" y="262.2" width="18.6" height="30.1" fill="rgba(0,0,0,0.71)" stroke="#0a0a0a" stroke-width="0.95"/>
<rect x="96.7" y="292.3" width="7.5" height="1.6" fill="rgba(0,0,0,0.71)" stroke="#0a0a0a" stroke-width="0.95"/>
<rect x="104.2" y="292.3" width="4.0" height="15.2" fill="rgba(0,0,0,0.71)" stroke="#0a0a0a" stroke-width="0.95"/>
<rect x="108.2" y="292.3" width="8.8" height="28.5" fill="rgba(0,0,0,0.71)" stroke="#0a0a0a" stroke-width="0.95"/>
<rect x="118.8" y="267.3" width="21.9" height="25.0" fill="rgba(0,0,0,0.71)" stroke="#0a0a0a" stroke-width="0.95"/>
<rect x="140.6" y="292.3" width="7.0" height="14.7" fill="rgba(0,0,0,0.71)" stroke="#0a0a0a" stroke-width="0.95"/>
<rect x="148.4" y="292.3" width="16.1" height="26.7" fill="rgba(0,0,0,0.71)" stroke="#0a0a0a" stroke-width="0.95"/>
<rect x="165.7" y="262.5" width="8.3" height="29.8" fill="rgba(0,0,0,0.71)" stroke="#0a0a0a" stroke-width="0.95"/>
<rect x="174.5" y="292.3" width="19.6" height="7.1" fill="rgba(0,0,0,0.71)" stroke="#0a0a0a" stroke-width="0.95"/>
<rect x="194.1" y="292.3" width="2.5" height="19.2" fill="rgba(0,0,0,0.71)" stroke="#0a0a0a" stroke-width="0.95"/>
<rect x="197.4" y="279.3" width="23.1" height="13.0" fill="rgba(0,0,0,0.71)" stroke="#0a0a0a" stroke-width="0.95"/>
<rect x="220.5" y="292.3" width="16.3" height="2.1" fill="rgba(0,0,0,0.71)" stroke="#0a0a0a" stroke-width="0.95"/>
</g>
<line x1="67.1" y1="292.3" x2="237.7" y2="292.3" stroke="#000" stroke-width="1.3"/>
<clipPath id="tc01"><rect x="68.1" y="367.6" width="169.6" height="24.8"/></clipPath>
<g clip-path="url(#tc01)">
<path d="M64.0,371.5 L78.0,371.5 L79.6,374.4 L79.6,376.8 L78.0,379.6 L64.0,379.6 Q63.7,379.6 63.7,379.2 L63.7,371.9 Q63.7,371.5 64.0,371.5 Z" fill="#6070f4" stroke="#1e2ec6" stroke-width="0.7" stroke-linejoin="round"/><path d="M71.0,374.2 L72.5,375.6 L71.0,376.9 Z" fill="#2a38c0"/>
<path d="M78.6,371.5 L94.9,371.5 L96.5,374.4 L96.5,376.8 L94.9,379.6 L78.6,379.6 Q78.3,379.6 78.3,379.2 L78.3,371.9 Q78.3,371.5 78.6,371.5 Z" fill="#6070f4" stroke="#1e2ec6" stroke-width="0.7" stroke-linejoin="round"/><path d="M86.7,374.2 L88.2,375.6 L86.7,376.9 Z" fill="#2a38c0"/>
<path d="M119.3,371.5 L138.8,371.5 L140.4,374.4 L140.4,376.8 L138.8,379.6 L119.3,379.6 Q119.0,379.6 119.0,379.2 L119.0,371.9 Q119.0,371.5 119.3,371.5 Z" fill="#6070f4" stroke="#1e2ec6" stroke-width="0.7" stroke-linejoin="round"/><path d="M129.0,374.2 L130.5,375.6 L129.0,376.9 Z" fill="#2a38c0"/>
<path d="M166.3,371.5 L172.2,371.5 L173.8,374.4 L173.8,376.8 L172.2,379.6 L166.3,379.6 Q165.9,379.6 165.9,379.2 L165.9,371.9 Q165.9,371.5 166.3,371.5 Z" fill="#6070f4" stroke="#1e2ec6" stroke-width="0.7" stroke-linejoin="round"/>
<path d="M103.1,382.2 L98.5,382.2 L96.9,385.3 L96.9,387.7 L98.5,390.9 L103.1,390.9 Q103.5,390.9 103.5,390.5 L103.5,382.6 Q103.5,382.2 103.1,382.2 Z" fill="#0b18b8" stroke="#0b18b8" stroke-width="0.4" stroke-linejoin="round"/>
<path d="M107.7,382.2 L106.0,382.2 L104.4,385.3 L104.4,387.7 L106.0,390.9 L107.7,390.9 Q108.0,390.9 108.0,390.5 L108.0,382.6 Q108.0,382.2 107.7,382.2 Z" fill="#0b18b8" stroke="#0b18b8" stroke-width="0.4" stroke-linejoin="round"/>
<path d="M116.5,382.2 L110.5,382.2 L108.9,385.3 L108.9,387.7 L110.5,390.9 L116.5,390.9 Q116.8,390.9 116.8,390.5 L116.8,382.6 Q116.8,382.2 116.5,382.2 Z" fill="#0b18b8" stroke="#0b18b8" stroke-width="0.4" stroke-linejoin="round"/>
<path d="M147.1,382.2 L142.4,382.2 L140.8,385.3 L140.8,387.7 L142.4,390.9 L147.1,390.9 Q147.5,390.9 147.5,390.5 L147.5,382.6 Q147.5,382.2 147.1,382.2 Z" fill="#0b18b8" stroke="#0b18b8" stroke-width="0.4" stroke-linejoin="round"/>
<path d="M163.9,382.2 L150.2,382.2 L148.6,385.3 L148.6,387.7 L150.2,390.9 L163.9,390.9 Q164.3,390.9 164.3,390.5 L164.3,382.6 Q164.3,382.2 163.9,382.2 Z" fill="#0b18b8" stroke="#0b18b8" stroke-width="0.4" stroke-linejoin="round"/><path d="M157.2,385.2 L155.7,386.5 L157.2,387.8 Z" fill="#7d8af5"/>
<path d="M194.8,382.2 L176.3,382.2 L174.7,385.3 L174.7,387.7 L176.3,390.9 L194.8,390.9 Q195.2,390.9 195.2,390.5 L195.2,382.6 Q195.2,382.2 194.8,382.2 Z" fill="#0b18b8" stroke="#0b18b8" stroke-width="0.4" stroke-linejoin="round"/><path d="M185.7,385.2 L184.2,386.5 L185.7,387.8 Z" fill="#7d8af5"/>
<path d="M220.0,382.2 L197.7,382.2 L196.1,385.3 L196.1,387.7 L197.7,390.9 L220.0,390.9 Q220.3,390.9 220.3,390.5 L220.3,382.6 Q220.3,382.2 220.0,382.2 Z" fill="#0b18b8" stroke="#0b18b8" stroke-width="0.4" stroke-linejoin="round"/><path d="M208.9,385.2 L207.4,386.5 L208.9,387.8 Z" fill="#7d8af5"/>
<path d="M232.5,382.2 L222.3,382.2 L220.7,385.3 L220.7,387.7 L222.3,390.9 L232.5,390.9 Q232.9,390.9 232.9,390.5 L232.9,382.6 Q232.9,382.2 232.5,382.2 Z" fill="#0b18b8" stroke="#0b18b8" stroke-width="0.4" stroke-linejoin="round"/><path d="M227.5,385.2 L226.0,386.5 L227.5,387.8 Z" fill="#7d8af5"/>
<path d="M236.3,382.2 L234.9,382.2 L233.3,385.3 L233.3,387.7 L234.9,390.9 L236.3,390.9 Q236.7,390.9 236.7,390.5 L236.7,382.6 Q236.7,382.2 236.3,382.2 Z" fill="#0b18b8" stroke="#0b18b8" stroke-width="0.4" stroke-linejoin="round"/>
</g>
<line x1="68.1" y1="367.5" x2="237.7" y2="367.5" stroke="#0c0c0c" stroke-width="1.45"/>
<line x1="68.1" y1="381.1" x2="237.7" y2="381.1" stroke="#0c0c0c" stroke-width="1.35"/>
<rect x="68.1" y="216.9" width="169.6" height="175.5" fill="none" stroke="#111" stroke-width="1.4"/>
<text x="61.3" y="221.87" transform="rotate(0.03 61.3 221.87)" font-family="Liberation Sans, Arial, Helvetica, sans-serif" font-size="15" text-anchor="end" fill="#111">0.70</text>
<text x="61.3" y="259.57" transform="rotate(0.03 61.3 259.57)" font-family="Liberation Sans, Arial, Helvetica, sans-serif" font-size="15" text-anchor="end" fill="#111">0.35</text>
<text x="61.3" y="297.17" transform="rotate(0.03 61.3 297.17)" font-family="Liberation Sans, Arial, Helvetica, sans-serif" font-size="15" text-anchor="end" fill="#111">0</text>
<text x="61.3" y="334.77" transform="rotate(0.03 61.3 334.77)" font-family="Liberation Sans, Arial, Helvetica, sans-serif" font-size="15" text-anchor="end" fill="#111">–0.35</text>
<text x="61.3" y="372.37" transform="rotate(0.03 61.3 372.37)" font-family="Liberation Sans, Arial, Helvetica, sans-serif" font-size="15" text-anchor="end" fill="#111">–0.70</text>
<text x="127.3" y="235.3" transform="rotate(0.03 127.3 235.3)" font-family="Liberation Sans, Arial, Helvetica, sans-serif" font-size="13" font-style="italic" fill="#111">C. jejuni</text>
<text x="66.6" y="411.6" transform="rotate(0.03 66.6 411.6)" font-family="Liberation Sans, Arial, Helvetica, sans-serif" font-size="14.9" text-anchor="start" fill="#111">14,500</text>
<text x="241.0" y="411.6" transform="rotate(0.03 241.0 411.6)" font-family="Liberation Sans, Arial, Helvetica, sans-serif" font-size="14.9" text-anchor="end" fill="#111">27,500</text>
<text x="150.6" y="434.4" transform="rotate(0.03 150.6 434.4)" font-family="Liberation Sans, Arial, Helvetica, sans-serif" font-size="14.75" text-anchor="middle" fill="#111">Genome region</text>
<text transform="translate(11.2,305.8) rotate(-89.97)" font-family="Liberation Sans, Arial, Helvetica, sans-serif" font-size="14.75" text-anchor="middle" fill="#111">GC skew</text>
<clipPath id="c11"><rect x="287.8" y="216.9" width="168.8" height="150.7"/></clipPath>
<g clip-path="url(#c11)">
<path d="M288.0,276.8H290.1V270.5H292.0V306.5H293.1V265.5H295.1V286.9H297.6V279.3H300.9V264.3H302.0V274.3H303.5V269.3H305.1V291.9H309.3V328.8H310.4V298.2H313.1V268.0H315.3V254.7H316.5V279.3H319.9V284.4H322.9V305.7H324.6V325.1H325.7V270.5H328.0V289.4H330.3V303.7H331.9V264.3H333.0V332.6H335.2V357.2H336.3V269.8H338.4V294.4H340.3V275.6H342.6V279.3H346.3V289.4H349.3V319.5H350.4V296.9H351.8V316.3H354.3V279.8H355.4V306.2H357.3V273.0H359.2V289.4H360.6V312.0H361.7V294.4H364.6V280.6H365.7V283.1H367.4V308.7H368.5V289.4H371.9V313.7H373.0V274.3H376.2V238.4H377.3V289.4H381.3V314.3H382.4V299.4H385.9V255.5H387.1V312.5H389.2V300.7H390.8V301.2H392.5V286.9H395.5V273.0H396.6V289.4H400.6V305.0H401.8V289.4H403.9V310.5H405.0V289.4H407.8V281.8H408.9V289.4H411.6V301.9H414.6V309.5H416.9V316.3H419.4V282.3H420.5V306.2H423.0V286.9H425.5V343.9H426.6V289.4H428.2V266.8H431.4V260.5H432.5V274.3H436.0V279.3H439.2V303.7H440.3V289.4H444.7V282.3H446.6V311.2H447.7V272.3H450.3V263.0H452.3V274.3H453.8V258.0H454.9V308.7H456.0V276.8H456.6V276.8" fill="none" stroke="#949494" stroke-width="1.3" stroke-linejoin="miter"/>
<rect x="288.0" y="281.3" width="15.6" height="11.9" fill="rgba(0,0,0,0.71)" stroke="#0a0a0a" stroke-width="0.95"/>
<rect x="303.6" y="293.2" width="5.5" height="3.2" fill="rgba(0,0,0,0.71)" stroke="#0a0a0a" stroke-width="0.95"/>
<rect x="312.4" y="271.3" width="4.3" height="21.9" fill="rgba(0,0,0,0.71)" stroke="#0a0a0a" stroke-width="0.95"/>
<rect x="316.7" y="293.2" width="19.1" height="4.2" fill="rgba(0,0,0,0.71)" stroke="#0a0a0a" stroke-width="0.95"/>
<rect x="335.7" y="283.6" width="11.8" height="9.6" fill="rgba(0,0,0,0.71)" stroke="#0a0a0a" stroke-width="0.95"/>
<rect x="350.1" y="293.2" width="20.1" height="1.2" fill="rgba(0,0,0,0.71)" stroke="#0a0a0a" stroke-width="0.95"/>
<rect x="374.4" y="273.8" width="5.3" height="19.4" fill="rgba(0,0,0,0.71)" stroke="#0a0a0a" stroke-width="0.95"/>
<rect x="380.2" y="289.4" width="25.1" height="3.8" fill="rgba(0,0,0,0.71)" stroke="#0a0a0a" stroke-width="0.95"/>
<rect x="405.3" y="288.6" width="5.5" height="4.6" fill="rgba(0,0,0,0.71)" stroke="#0a0a0a" stroke-width="0.95"/>
<rect x="411.6" y="293.2" width="13.8" height="9.2" fill="rgba(0,0,0,0.71)" stroke="#0a0a0a" stroke-width="0.95"/>
<rect x="427.2" y="267.3" width="7.5" height="25.9" fill="rgba(0,0,0,0.71)" stroke="#0a0a0a" stroke-width="0.95"/>
<rect x="451.8" y="276.3" width="4.8" height="16.9" fill="rgba(0,0,0,0.71)" stroke="#0a0a0a" stroke-width="0.95"/>
</g>
<line x1="286.8" y1="293.2" x2="456.6" y2="293.2" stroke="#000" stroke-width="1.3"/>
<clipPath id="tc11"><rect x="287.8" y="367.6" width="168.8" height="24.8"/></clipPath>
<g clip-path="url(#tc11)">
<path d="M288.6,371.5 L299.8,371.5 L303.4,375.4 L303.4,375.8 L299.8,379.6 L288.6,379.6 Q288.2,379.6 288.2,379.2 L288.2,371.9 Q288.2,371.5 288.6,371.5 Z" fill="#6070f4" stroke="#1e2ec6" stroke-width="0.7" stroke-linejoin="round"/><path d="M295.1,374.2 L296.6,375.6 L295.1,376.9 Z" fill="#2a38c0"/>
<path d="M312.6,371.5 L312.6,371.5 L316.0,375.4 L316.0,375.8 L312.6,379.6 L312.6,379.6 Q312.6,379.6 312.6,379.6 L312.6,371.5 Q312.6,371.5 312.6,371.5 Z" fill="#6070f4" stroke="#1e2ec6" stroke-width="0.7" stroke-linejoin="round"/>
<path d="M336.3,371.5 L343.8,371.5 L347.4,375.4 L347.4,375.8 L343.8,379.6 L336.3,379.6 Q335.9,379.6 335.9,379.2 L335.9,371.9 Q335.9,371.5 336.3,371.5 Z" fill="#6070f4" stroke="#1e2ec6" stroke-width="0.7" stroke-linejoin="round"/><path d="M341.0,374.2 L342.5,375.6 L341.0,376.9 Z" fill="#2a38c0"/>
<path d="M350.6,371.5 L366.4,371.5 L370.0,375.4 L370.0,375.8 L366.4,379.6 L350.6,379.6 Q350.3,379.6 350.3,379.2 L350.3,371.9 Q350.3,371.5 350.6,371.5 Z" fill="#6070f4" stroke="#1e2ec6" stroke-width="0.7" stroke-linejoin="round"/><path d="M359.4,374.2 L360.9,375.6 L359.4,376.9 Z" fill="#2a38c0"/>
<path d="M374.9,371.5 L375.7,371.5 L379.3,375.4 L379.3,375.8 L375.7,379.6 L374.9,379.6 Q374.6,379.6 374.6,379.3 L374.6,371.8 Q374.6,371.5 374.9,371.5 Z" fill="#6070f4" stroke="#1e2ec6" stroke-width="0.7" stroke-linejoin="round"/>
<path d="M380.8,371.5 L400.3,371.5 L403.9,375.4 L403.9,375.8 L400.3,379.6 L380.8,379.6 Q380.4,379.6 380.4,379.2 L380.4,371.9 Q380.4,371.5 380.8,371.5 Z" fill="#6070f4" stroke="#1e2ec6" stroke-width="0.7" stroke-linejoin="round"/><path d="M391.5,374.2 L393.0,375.6 L391.5,376.9 Z" fill="#2a38c0"/>
<path d="M405.4,371.5 L407.1,371.5 L410.7,375.4 L410.7,375.8 L407.1,379.6 L405.4,379.6 Q405.0,379.6 405.0,379.2 L405.0,371.9 Q405.0,371.5 405.4,371.5 Z" fill="#6070f4" stroke="#1e2ec6" stroke-width="0.7" stroke-linejoin="round"/>
<path d="M427.3,371.5 L430.9,371.5 L434.5,375.4 L434.5,375.8 L430.9,379.6 L427.3,379.6 Q426.9,379.6 426.9,379.2 L426.9,371.9 Q426.9,371.5 427.3,371.5 Z" fill="#6070f4" stroke="#1e2ec6" stroke-width="0.7" stroke-linejoin="round"/>
<path d="M452.4,371.5 L458.1,371.5 L461.7,375.4 L461.7,375.8 L458.1,379.6 L452.4,379.6 Q452.0,379.6 452.0,379.2 L452.0,371.9 Q452.0,371.5 452.4,371.5 Z" fill="#6070f4" stroke="#1e2ec6" stroke-width="0.7" stroke-linejoin="round"/><path d="M456.2,374.2 L457.7,375.6 L456.2,376.9 Z" fill="#2a38c0"/>
<path d="M307.6,382.2 L306.9,382.2 L303.3,386.3 L303.3,386.7 L306.9,390.9 L307.6,390.9 Q307.9,390.9 307.9,390.6 L307.9,382.5 Q307.9,382.2 307.6,382.2 Z" fill="#0b18b8" stroke="#0b18b8" stroke-width="0.4" stroke-linejoin="round"/>
<path d="M334.4,382.2 L320.5,382.2 L316.9,386.3 L316.9,386.7 L320.5,390.9 L334.4,390.9 Q334.8,390.9 334.8,390.5 L334.8,382.6 Q334.8,382.2 334.4,382.2 Z" fill="#0b18b8" stroke="#0b18b8" stroke-width="0.4" stroke-linejoin="round"/><path d="M326.5,385.2 L325.0,386.5 L326.5,387.8 Z" fill="#7d8af5"/>
<path d="M424.4,382.2 L415.4,382.2 L411.8,386.3 L411.8,386.7 L415.4,390.9 L424.4,390.9 Q424.7,390.9 424.7,390.5 L424.7,382.6 Q424.7,382.2 424.4,382.2 Z" fill="#0b18b8" stroke="#0b18b8" stroke-width="0.4" stroke-linejoin="round"/><path d="M419.0,385.2 L417.5,386.5 L419.0,387.8 Z" fill="#7d8af5"/>
<path d="M445.5,382.2 L438.0,382.2 L434.4,386.3 L434.4,386.7 L438.0,390.9 L445.5,390.9 Q445.9,390.9 445.9,390.5 L445.9,382.6 Q445.9,382.2 445.5,382.2 Z" fill="#0b18b8" stroke="#0b18b8" stroke-width="0.4" stroke-linejoin="round"/><path d="M440.8,385.2 L439.3,386.5 L440.8,387.8 Z" fill="#7d8af5"/>
</g>
<line x1="287.8" y1="367.5" x2="456.6" y2="367.5" stroke="#0c0c0c" stroke-width="1.45"/>
<line x1="287.8" y1="381.1" x2="456.6" y2="381.1" stroke="#0c0c0c" stroke-width="1.35"/>
<rect x="287.8" y="216.9" width="168.8" height="175.5" fill="none" stroke="#111" stroke-width="1.4"/>
<text x="281.0" y="221.87" transform="rotate(0.03 281.0 221.87)" font-family="Liberation Sans, Arial, Helvetica, sans-serif" font-size="15" text-anchor="end" fill="#111">0.50</text>
<text x="281.0" y="259.57" transform="rotate(0.03 281.0 259.57)" font-family="Liberation Sans, Arial, Helvetica, sans-serif" font-size="15" text-anchor="end" fill="#111">0.25</text>
<text x="281.0" y="297.17" transform="rotate(0.03 281.0 297.17)" font-family="Liberation Sans, Arial, Helvetica, sans-serif" font-size="15" text-anchor="end" fill="#111">0</text>
<text x="281.0" y="334.77" transform="rotate(0.03 281.0 334.77)" font-family="Liberation Sans, Arial, Helvetica, sans-serif" font-size="15" text-anchor="end" fill="#111">–0.25</text>
<text x="281.0" y="372.37" transform="rotate(0.03 281.0 372.37)" font-family="Liberation Sans, Arial, Helvetica, sans-serif" font-size="15" text-anchor="end" fill="#111">–0.50</text>
<text x="328.5" y="235.3" transform="rotate(0.03 328.5 235.3)" font-family="Liberation Sans, Arial, Helvetica, sans-serif" font-size="13" font-style="italic" fill="#111">K. pneumoniae</text>
<text x="283.0" y="411.6" transform="rotate(0.03 283.0 411.6)" font-family="Liberation Sans, Arial, Helvetica, sans-serif" font-size="14.9" text-anchor="start" fill="#111">111,800</text>
<text x="462.9" y="411.6" transform="rotate(0.03 462.9 411.6)" font-family="Liberation Sans, Arial, Helvetica, sans-serif" font-size="14.9" text-anchor="end" fill="#111">128,000</text>
<text x="372.5" y="434.4" transform="rotate(0.03 372.5 434.4)" font-family="Liberation Sans, Arial, Helvetica, sans-serif" font-size="14.75" text-anchor="middle" fill="#111">Genome region</text>
<clipPath id="c21"><rect x="509.6" y="216.9" width="169.0" height="150.7"/></clipPath>
<g clip-path="url(#c21)">
<path d="M510.0,286.9H511.5V298.7H512.6V289.4H515.0V255.5H516.1V301.9H519.3V309.5H520.8V317.5H523.3V301.9H525.8V345.7H526.9V303.2H528.6V322.5H531.1V268.8H532.2V300.7H534.3V302.4H535.4V294.4H538.6V281.8H540.7V327.6H541.8V289.4H543.0V273.0H544.8V307.0H545.9V266.8H549.8V258.0H550.9V301.9H554.8V308.2H556.9V283.1H558.1V301.9H560.6V283.1H563.1V301.9H567.7V316.3H568.9V296.9H572.1V260.5H573.3V296.9H574.5V261.7H575.8V313.7H577.5V316.3H579.1V299.4H580.1V313.7H582.8V239.1H583.9V266.8H586.1V258.0H588.2V268.0H591.1V325.1H592.2V265.5H594.4V268.0H596.9V308.7H598.0V264.3H599.6V284.4H602.2V296.9H604.7V299.4H607.1V318.0H608.2V285.6H609.7V289.4H610.9V266.8H613.7V247.9H614.8V276.8H617.1V261.7H618.9V305.0H620.0V289.4H623.0V260.5H624.1V276.8H628.1V284.4H630.6V260.5H631.7V274.3H635.2V235.4H636.3V258.0H638.7V280.6H641.2V301.9H643.6V348.2H644.7V314.5H646.4V286.9H647.5V319.5H649.2V345.2H650.3V319.5H652.1V344.7H654.0V317.0H656.7V246.7H657.8V351.4H659.4V314.5H660.7V342.6H662.6V304.5H663.7V357.2H665.6V342.6H668.8V328.8H670.8V314.5H673.3V286.9H674.4V294.4H676.3V353.7H677.4V254.2H678.6V254.2" fill="none" stroke="#949494" stroke-width="1.3" stroke-linejoin="miter"/>
<rect x="510.0" y="285.6" width="6.0" height="6.3" fill="rgba(0,0,0,0.71)" stroke="#0a0a0a" stroke-width="0.95"/>
<rect x="516.8" y="291.9" width="15.1" height="13.1" fill="rgba(0,0,0,0.71)" stroke="#0a0a0a" stroke-width="0.95"/>
<rect x="531.9" y="289.4" width="20.6" height="2.5" fill="rgba(0,0,0,0.71)" stroke="#0a0a0a" stroke-width="0.95"/>
<rect x="552.5" y="291.9" width="27.1" height="4.5" fill="rgba(0,0,0,0.71)" stroke="#0a0a0a" stroke-width="0.95"/>
<rect x="580.9" y="280.1" width="13.8" height="11.8" fill="rgba(0,0,0,0.71)" stroke="#0a0a0a" stroke-width="0.95"/>
<rect x="594.7" y="279.3" width="8.3" height="12.6" fill="rgba(0,0,0,0.71)" stroke="#0a0a0a" stroke-width="0.95"/>
<rect x="603.0" y="291.9" width="7.5" height="2.0" fill="rgba(0,0,0,0.71)" stroke="#0a0a0a" stroke-width="0.95"/>
<rect x="610.5" y="276.8" width="8.0" height="15.1" fill="rgba(0,0,0,0.71)" stroke="#0a0a0a" stroke-width="0.95"/>
<rect x="619.3" y="282.6" width="11.8" height="9.3" fill="rgba(0,0,0,0.71)" stroke="#0a0a0a" stroke-width="0.95"/>
<rect x="631.1" y="263.5" width="5.8" height="28.4" fill="rgba(0,0,0,0.71)" stroke="#0a0a0a" stroke-width="0.95"/>
<rect x="636.9" y="286.9" width="3.5" height="5.0" fill="rgba(0,0,0,0.71)" stroke="#0a0a0a" stroke-width="0.95"/>
<rect x="640.4" y="291.9" width="35.4" height="27.6" fill="rgba(0,0,0,0.71)" stroke="#0a0a0a" stroke-width="0.95"/>
<rect x="675.8" y="291.9" width="2.8" height="1.2" fill="rgba(0,0,0,0.71)" stroke="#0a0a0a" stroke-width="0.95"/>
</g>
<line x1="508.6" y1="291.9" x2="678.6" y2="291.9" stroke="#000" stroke-width="1.3"/>
<clipPath id="tc21"><rect x="509.6" y="367.6" width="169.0" height="24.8"/></clipPath>
<g clip-path="url(#tc21)">
<path d="M532.4,371.5 L550.5,371.5 L552.5,374.8 L552.5,376.4 L550.5,379.6 L532.4,379.6 Q532.1,379.6 532.1,379.2 L532.1,371.9 Q532.1,371.5 532.4,371.5 Z" fill="#6070f4" stroke="#1e2ec6" stroke-width="0.7" stroke-linejoin="round"/><path d="M541.6,374.2 L543.1,375.6 L541.6,376.9 Z" fill="#2a38c0"/>
<path d="M603.5,371.5 L608.3,371.5 L610.3,374.8 L610.3,376.4 L608.3,379.6 L603.5,379.6 Q603.2,379.6 603.2,379.2 L603.2,371.9 Q603.2,371.5 603.5,371.5 Z" fill="#6070f4" stroke="#1e2ec6" stroke-width="0.7" stroke-linejoin="round"/>
<path d="M619.9,371.5 L628.9,371.5 L630.9,374.8 L630.9,376.4 L628.9,379.6 L619.9,379.6 Q619.5,379.6 619.5,379.2 L619.5,371.9 Q619.5,371.5 619.9,371.5 Z" fill="#6070f4" stroke="#1e2ec6" stroke-width="0.7" stroke-linejoin="round"/><path d="M624.5,374.2 L626.0,375.6 L624.5,376.9 Z" fill="#2a38c0"/>
<path d="M515.5,382.2 L512.2,382.2 L510.2,385.7 L510.2,387.3 L512.2,390.9 L515.5,390.9 Q515.8,390.9 515.8,390.5 L515.8,382.6 Q515.8,382.2 515.5,382.2 Z" fill="#0b18b8" stroke="#0b18b8" stroke-width="0.4" stroke-linejoin="round"/>
<path d="M531.3,382.2 L519.0,382.2 L517.0,385.7 L517.0,387.3 L519.0,390.9 L531.3,390.9 Q531.7,390.9 531.7,390.5 L531.7,382.6 Q531.7,382.2 531.3,382.2 Z" fill="#0b18b8" stroke="#0b18b8" stroke-width="0.4" stroke-linejoin="round"/><path d="M525.0,385.2 L523.5,386.5 L525.0,387.8 Z" fill="#7d8af5"/>
<path d="M579.1,382.2 L554.7,382.2 L552.7,385.7 L552.7,387.3 L554.7,390.9 L579.1,390.9 Q579.4,390.9 579.4,390.5 L579.4,382.6 Q579.4,382.2 579.1,382.2 Z" fill="#0b18b8" stroke="#0b18b8" stroke-width="0.4" stroke-linejoin="round"/><path d="M566.7,385.2 L565.2,386.5 L566.7,387.8 Z" fill="#7d8af5"/>
<path d="M594.1,382.2 L583.1,382.2 L581.1,385.7 L581.1,387.3 L583.1,390.9 L594.1,390.9 Q594.5,390.9 594.5,390.5 L594.5,382.6 Q594.5,382.2 594.1,382.2 Z" fill="#0b18b8" stroke="#0b18b8" stroke-width="0.4" stroke-linejoin="round"/><path d="M588.5,385.2 L587.0,386.5 L588.5,387.8 Z" fill="#7d8af5"/>
<path d="M601.7,382.2 L597.4,382.2 L595.4,385.7 L595.4,387.3 L597.4,390.9 L601.7,390.9 Q602.0,390.9 602.0,390.5 L602.0,382.6 Q602.0,382.2 601.7,382.2 Z" fill="#0b18b8" stroke="#0b18b8" stroke-width="0.4" stroke-linejoin="round"/>
<path d="M618.0,382.2 L612.0,382.2 L610.0,385.7 L610.0,387.3 L612.0,390.9 L618.0,390.9 Q618.4,390.9 618.4,390.5 L618.4,382.6 Q618.4,382.2 618.0,382.2 Z" fill="#0b18b8" stroke="#0b18b8" stroke-width="0.4" stroke-linejoin="round"/>
<path d="M633.9,382.2 L633.3,382.2 L631.3,385.7 L631.3,387.3 L633.3,390.9 L633.9,390.9 Q634.2,390.9 634.2,390.6 L634.2,382.5 Q634.2,382.2 633.9,382.2 Z" fill="#0b18b8" stroke="#0b18b8" stroke-width="0.4" stroke-linejoin="round"/>
<path d="M637.0,382.2 L636.6,382.2 L634.6,385.7 L634.6,387.3 L636.6,390.9 L637.0,390.9 Q637.2,390.9 637.2,390.7 L637.2,382.4 Q637.2,382.2 637.0,382.2 Z" fill="#0b18b8" stroke="#0b18b8" stroke-width="0.4" stroke-linejoin="round"/>
<path d="M675.3,382.2 L640.1,382.2 L638.1,385.7 L638.1,387.3 L640.1,390.9 L675.3,390.9 Q675.6,390.9 675.6,390.5 L675.6,382.6 Q675.6,382.2 675.3,382.2 Z" fill="#0b18b8" stroke="#0b18b8" stroke-width="0.4" stroke-linejoin="round"/><path d="M657.6,385.2 L656.1,386.5 L657.6,387.8 Z" fill="#7d8af5"/>
</g>
<line x1="509.6" y1="367.5" x2="678.6" y2="367.5" stroke="#0c0c0c" stroke-width="1.45"/>
<line x1="509.6" y1="381.1" x2="678.6" y2="381.1" stroke="#0c0c0c" stroke-width="1.35"/>
<rect x="509.6" y="216.9" width="169.0" height="175.5" fill="none" stroke="#111" stroke-width="1.4"/>
<text x="502.8" y="221.87" transform="rotate(0.03 502.8 221.87)" font-family="Liberation Sans, Arial, Helvetica, sans-serif" font-size="15" text-anchor="end" fill="#111">0.30</text>
<text x="502.8" y="259.57" transform="rotate(0.03 502.8 259.57)" font-family="Liberation Sans, Arial, Helvetica, sans-serif" font-size="15" text-anchor="end" fill="#111">0.15</text>
<text x="502.8" y="297.17" transform="rotate(0.03 502.8 297.17)" font-family="Liberation Sans, Arial, Helvetica, sans-serif" font-size="15" text-anchor="end" fill="#111">0</text>
<text x="502.8" y="334.77" transform="rotate(0.03 502.8 334.77)" font-family="Liberation Sans, Arial, Helvetica, sans-serif" font-size="15" text-anchor="end" fill="#111">–0.15</text>
<text x="502.8" y="372.37" transform="rotate(0.03 502.8 372.37)" font-family="Liberation Sans, Arial, Helvetica, sans-serif" font-size="15" text-anchor="end" fill="#111">–0.30</text>
<text x="547.5" y="234.4" transform="rotate(0.03 547.5 234.4)" font-family="Liberation Sans, Arial, Helvetica, sans-serif" font-size="13" font-style="italic" fill="#111">M. tuberculosis</text>
<text x="502.7" y="411.6" transform="rotate(0.03 502.7 411.6)" font-family="Liberation Sans, Arial, Helvetica, sans-serif" font-size="14.9" text-anchor="start" fill="#111">323,000</text>
<text x="685.0" y="411.6" transform="rotate(0.03 685.0 411.6)" font-family="Liberation Sans, Arial, Helvetica, sans-serif" font-size="14.9" text-anchor="end" fill="#111">336,000</text>
<text x="594.6" y="434.4" transform="rotate(0.03 594.6 434.4)" font-family="Liberation Sans, Arial, Helvetica, sans-serif" font-size="14.75" text-anchor="middle" fill="#111">Genome region</text>
</svg>
</body></html>
